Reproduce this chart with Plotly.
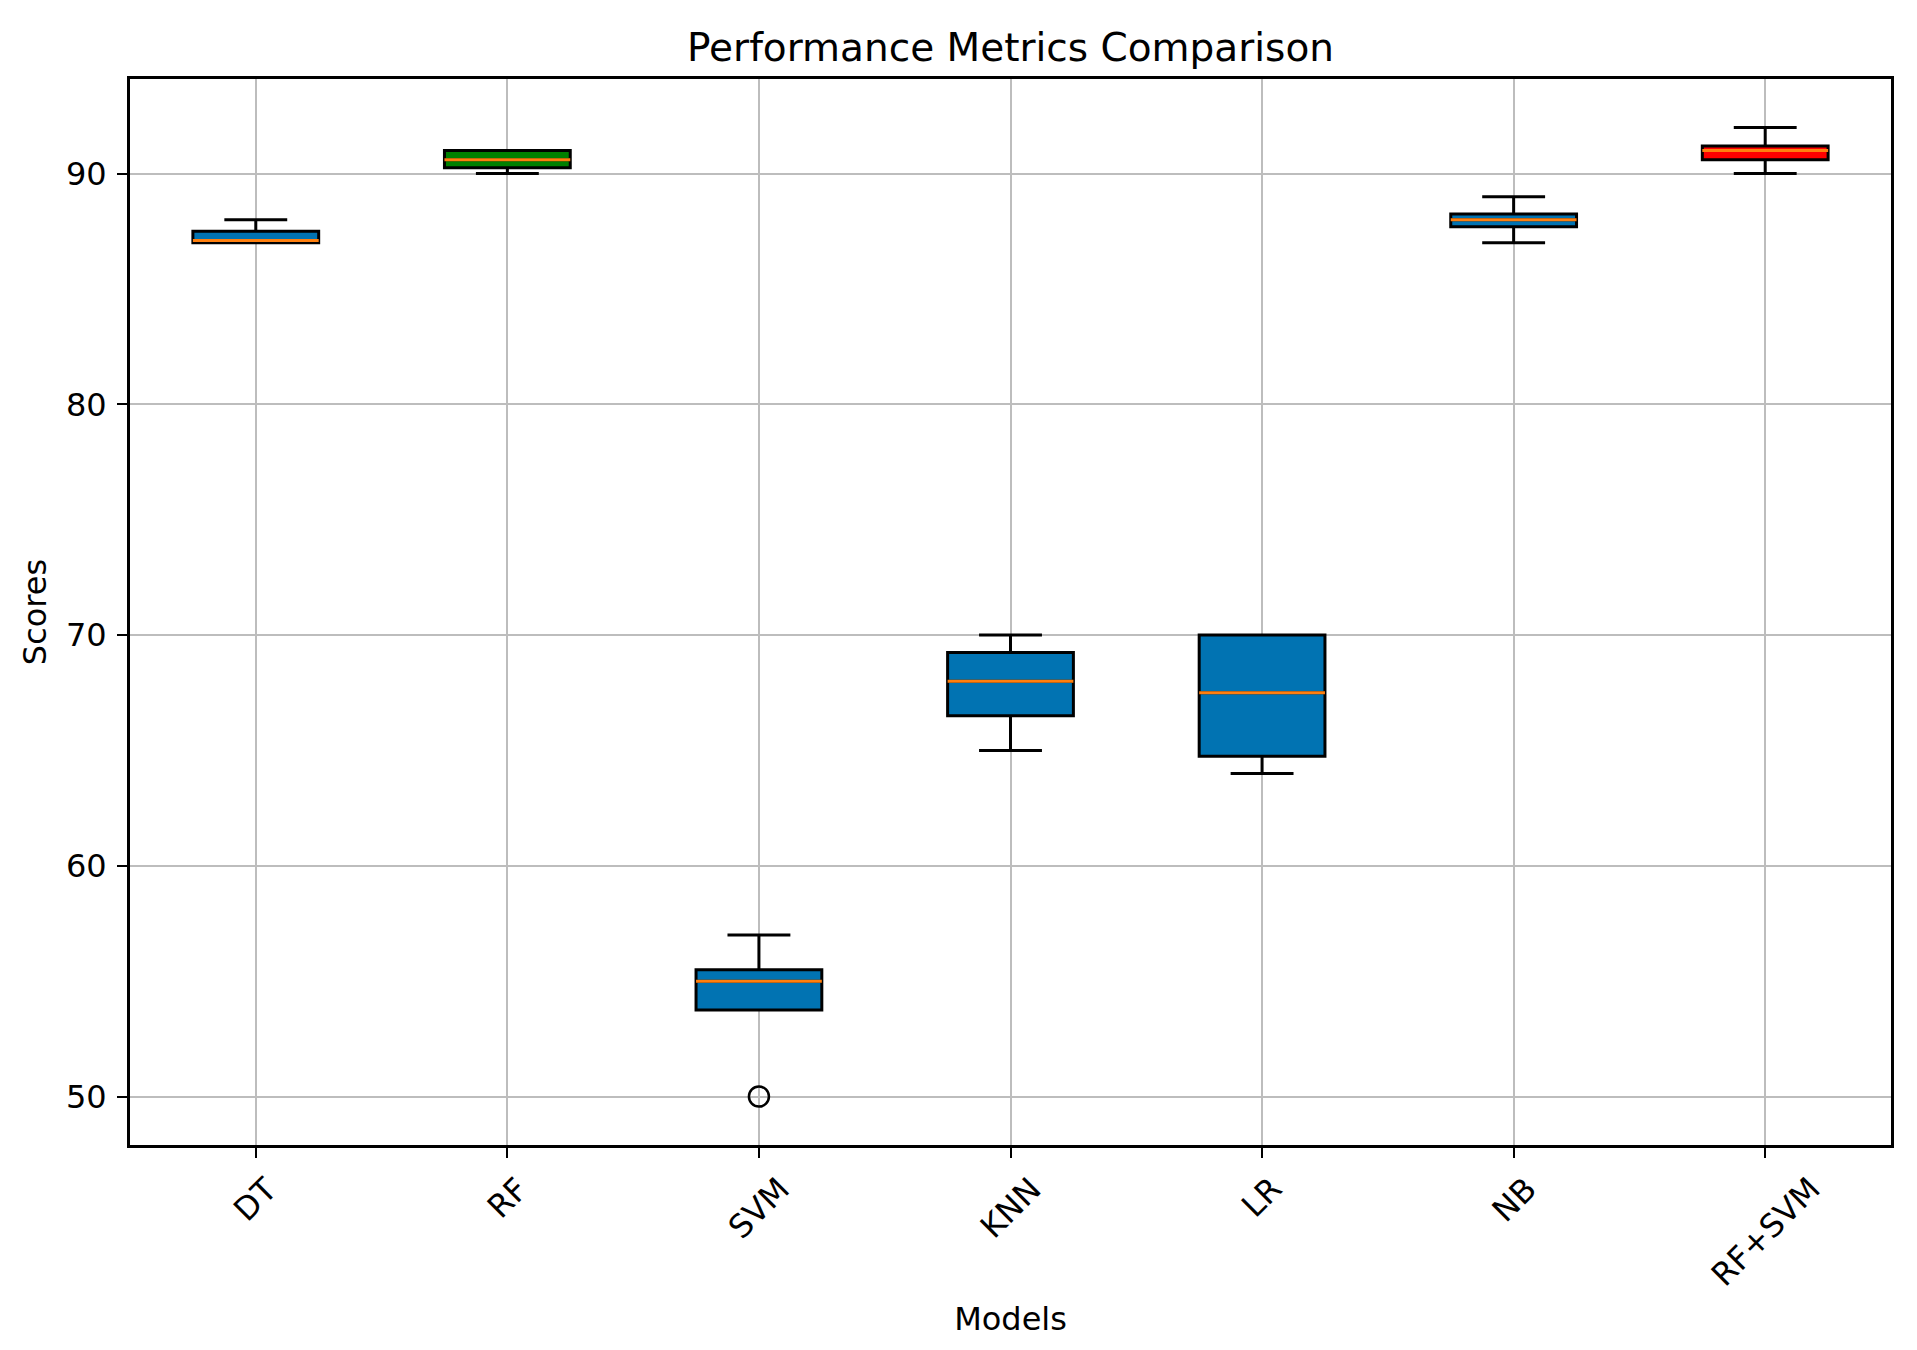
import plotly.graph_objects as go

# ---- data ----
models = ["DT", "RF", "SVM", "KNN", "LR", "NB", "RF+SVM"]
lower_whisker = [87.0, 90.0, 53.75, 65.0, 64.0, 87.0, 90.0]
q1_values = [87.0, 90.25, 53.75, 66.5, 64.75, 87.7, 90.6]
median_values = [87.1, 90.6, 55.0, 68.0, 67.5, 88.0, 91.0]
q3_values = [87.5, 91.0, 55.5, 69.25, 70.0, 88.25, 91.2]
upper_whisker = [88.0, 91.0, 57.0, 70.0, 70.0, 89.0, 92.0]
box_colors = ["#0173B2", "green", "#0173B2", "#0173B2", "#0173B2", "#0173B2", "red"]
outlier_models = ["SVM"]
outlier_values = [50.0]
y_ticks = [50, 60, 70, 80, 90]

FONT = "DejaVu Sans"
W, H = 1909, 1342
fig = go.Figure()

for i, m in enumerate(models):
    fig.add_trace(go.Box(
        x=[m], q1=[q1_values[i]], median=[median_values[i]], q3=[q3_values[i]],
        lowerfence=[lower_whisker[i]], upperfence=[upper_whisker[i]],
        fillcolor=box_colors[i], line=dict(color="black", width=3),
        width=0.5, whiskerwidth=0.5, boxpoints=False, showlegend=False,
        hoverinfo="skip",
    ))
    # orange median line drawn as a collapsed box
    fig.add_trace(go.Box(
        x=[m], q1=[median_values[i]], median=[median_values[i]], q3=[median_values[i]],
        lowerfence=[median_values[i]], upperfence=[median_values[i]],
        fillcolor="rgba(0,0,0,0)", line=dict(color="#ff7f0e", width=3),
        width=0.5, whiskerwidth=0.5, boxpoints=False, showlegend=False,
        hoverinfo="skip",
    ))

fig.add_trace(go.Scatter(
    x=outlier_models, y=outlier_values, mode="markers",
    marker=dict(symbol="circle-open", size=20, color="black", line=dict(width=2.5)),
    showlegend=False, hoverinfo="skip",
))

# rotated x tick labels centred on ticks (matplotlib style)
for m in models:
    fig.add_annotation(
        x=m, xref="x", y=0, yref="paper", yanchor="top", xanchor="center",
        yshift=-22, text=m, textangle=-45, showarrow=False,
        font=dict(family=FONT, size=32, color="black"),
    )

grid_color = "#bdbdbd"
fig.update_layout(
    width=W, height=H,
    margin=dict(l=122, r=26, t=71, b=205),
    paper_bgcolor="white", plot_bgcolor="white",
    boxmode="overlay",
    font=dict(family=FONT, size=32, color="black"),
    title=dict(
        text="Performance Metrics Comparison",
        font=dict(family=FONT, size=39, color="black"),
        x=0.5, xref="paper", xanchor="center",
        y=1 - 53 / H, yref="container", yanchor="bottom",
    ),
    xaxis=dict(
        type="category", categoryorder="array", categoryarray=models,
        range=[-0.5, len(models) - 0.5],
        showgrid=True, gridcolor=grid_color, gridwidth=2.4,
        showline=True, linecolor="black", linewidth=3, mirror=True,
        ticks="outside", ticklen=10, tickwidth=2.4, tickcolor="black",
        showticklabels=False, zeroline=False,
        title=dict(text="Models", font=dict(family=FONT, size=32, color="black"), standoff=151),
    ),
    yaxis=dict(
        range=[47.9, 94.1], tickvals=y_ticks,
        showgrid=True, gridcolor=grid_color, gridwidth=2.4,
        showline=True, linecolor="black", linewidth=3, mirror=True,
        ticks="outside", ticklen=10, tickwidth=2.4, tickcolor="black",
        tickfont=dict(family=FONT, size=32, color="black"),
        ticklabelstandoff=4, zeroline=False,
        title=dict(text="Scores", font=dict(family=FONT, size=32, color="black"), standoff=10),
    ),
)

fig.write_html("out.html")
